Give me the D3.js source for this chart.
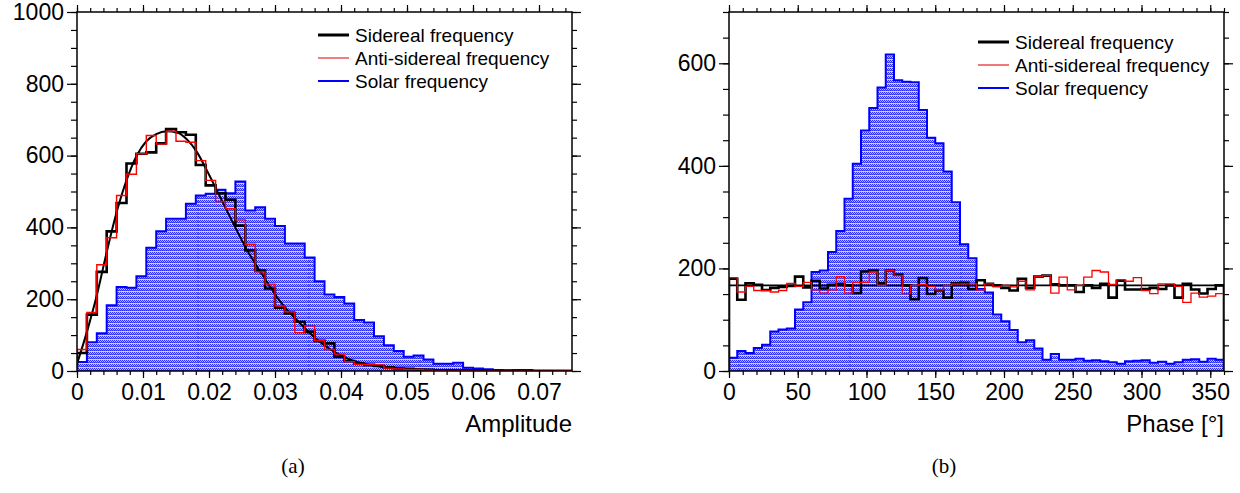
<!DOCTYPE html>
<html>
<head>
<meta charset="utf-8">
<script src="https://cdn.jsdelivr.net/npm/d3@7"></script>
<style>
  body { margin: 0; background: #fff; }
  svg { display: block; }
  text { font-family: "Liberation Sans", Arial, sans-serif; fill: #000; }
  .caption { font-family: "Liberation Serif", "DejaVu Serif", serif; }
</style>
</head>
<body>
<div id="chart"></div>
<script>
/*** DATA ***/

// (a) amplitude, 50 bins from 0 to 0.075
const ampRange = [0, 0.075];
const solarAmp = [25, 80, 105, 183, 234, 232, 264, 343, 389, 424,
  424, 466, 489, 494, 505, 495, 528, 447, 456, 424,
  404, 355, 355, 316, 250, 213, 206, 188, 142, 135,
  97, 72, 56, 40, 43, 32, 20, 20, 23, 9,
  7, 5, 3, 2, 3, 3, 1, 1, 1, 1];
const siderealAmp = [50, 157, 276, 389, 468, 578, 605, 609, 634, 674,
  665, 658, 574, 517, 495, 477, 405, 336, 280, 230,
  176, 160, 137, 109, 84, 77, 40, 28, 21, 17,
  14, 10, 7, 6, 4, 3, 2, 2, 1, 1,
  1, 0, 0, 0, 0, 0, 0, 0, 0, 0];
const antiAmp = [60, 163, 296, 371, 489, 548, 605, 656, 632, 668,
  640, 637, 586, 531, 472, 452, 421, 353, 276, 242,
  181, 165, 107, 126, 85, 60, 47, 26, 19, 18,
  17, 8, 6, 4, 4, 2, 1, 1, 1, 1,
  0, 0, 0, 0, 0, 0, 0, 0, 0, 0];
// fit curve of sidereal amplitude
const fitAmpX = [0, 0.0015, 0.003, 0.0045, 0.006, 0.0075, 0.009, 0.0105, 0.012, 0.0136,
  0.0151, 0.0166, 0.0182, 0.0197, 0.0212, 0.0227, 0.0242, 0.0258, 0.0273, 0.0283,
  0.0308, 0.0333, 0.0359, 0.0384, 0.0409, 0.0435, 0.046, 0.051, 0.061, 0.075];
const fitAmpY = [20, 109, 211, 331, 442, 531, 598, 640, 660, 668,
  665, 646, 609, 558, 503, 447, 392, 336, 290, 262,
  193, 142, 95, 60, 35, 20, 12, 5, 1, 0];

// (b) phase, 60 bins from 0 to 360
const phaseRange = [0, 360];
const solarPh = [26, 39, 35, 45, 51, 77, 81, 83, 120, 134,
  193, 196, 232, 273, 336, 404, 469, 513, 553, 617,
  567, 564, 563, 509, 455, 444, 389, 329, 247, 220,
  160, 153, 110, 97, 80, 56, 60, 44, 22, 33,
  22, 22, 24, 20, 21, 19, 17, 14, 19, 20,
  21, 16, 18, 14, 17, 22, 23, 18, 24, 22];
const siderealPh = [180, 139, 171, 168, 158, 162, 164, 166, 184, 163,
  176, 161, 168, 169, 167, 152, 194, 196, 171, 196,
  188, 167, 140, 181, 150, 157, 143, 171, 172, 160,
  177, 170, 167, 162, 157, 180, 162, 184, 186, 169,
  167, 167, 154, 167, 162, 170, 143, 176, 159, 159,
  160, 162, 160, 167, 143, 170, 159, 151, 160, 167];
const antiPh = [182, 154, 165, 157, 157, 154, 157, 171, 165, 173,
  158, 152, 158, 184, 152, 173, 173, 193, 167, 196,
  186, 151, 167, 169, 165, 158, 167, 170, 170, 170,
  158, 170, 164, 167, 164, 175, 158, 184, 186, 152,
  183, 158, 167, 183, 196, 193, 169, 178, 175, 182,
  157, 151, 170, 170, 165, 134, 152, 144, 146, 151];
const fitPh = 167;

const legendLabels = ["Sidereal frequency", "Anti-sidereal frequency", "Solar frequency"];

/*** SETUP ***/

const W = 1240, H = 493;
const svg = d3.select("#chart").append("svg").attr("width", W).attr("height", H);
const defs = svg.append("defs");

// checkered blue fill like the ROOT pattern
const pat = defs.append("pattern")
  .attr("id", "bluefill").attr("patternUnits", "userSpaceOnUse")
  .attr("width", 2).attr("height", 4);
pat.append("rect").attr("width", 2).attr("height", 4).attr("fill", "#bcbcff");
[[0, 0], [1, 1], [0, 2]].forEach(p => {
  pat.append("rect").attr("x", p[0]).attr("y", p[1]).attr("width", 1).attr("height", 1).attr("fill", "#2c2cf0");
});
pat.append("rect").attr("x", 1).attr("y", 2).attr("width", 1).attr("height", 1).attr("fill", "#6060f6");
pat.append("rect").attr("x", 0).attr("y", 3).attr("width", 2).attr("height", 1).attr("fill", "#d2d2ff");

function histPoints(vals, range) {
  const n = vals.length, w = (range[1] - range[0]) / n;
  const pts = [[range[0], 0]];
  vals.forEach((v, i) => pts.push([range[0] + i * w, v]));
  pts.push([range[1], vals[n - 1]]);
  pts.push([range[1], 0]);
  return pts;
}

function drawPanel(cfg) {
  const x = d3.scaleLinear().domain(cfg.xDomain).range([cfg.left, cfg.right]);
  const y = d3.scaleLinear().domain(cfg.yDomain).range([cfg.bottom, cfg.top]);
  const g = svg.append("g");

  defs.append("clipPath").attr("id", cfg.id + "clip")
    .append("rect").attr("x", cfg.left).attr("y", cfg.top)
    .attr("width", cfg.right - cfg.left).attr("height", cfg.bottom - cfg.top);

  const step = d3.line().x(d => x(d[0])).y(d => y(d[1])).curve(d3.curveStepAfter);
  const plot = g.append("g").attr("clip-path", "url(#" + cfg.id + "clip)");

  // solar: filled histogram
  const solarPts = histPoints(cfg.solar, cfg.xDomain);
  defs.append("clipPath").attr("id", cfg.id + "fillclip")
    .append("path").attr("d", step(solarPts));
  plot.append("path").attr("d", step(solarPts))
    .attr("fill", "url(#bluefill)").attr("stroke", "none");
  // faint tile seams of the fill
  const seams = plot.append("g").attr("clip-path", "url(#" + cfg.id + "fillclip)");
  d3.range(cfg.left + cfg.seam0, cfg.right, 111).forEach(sx => {
    seams.append("line").attr("x1", sx).attr("x2", sx).attr("y1", cfg.top).attr("y2", cfg.bottom)
      .attr("stroke", "#2020ff").attr("stroke-width", 1).attr("stroke-dasharray", "2,2").attr("opacity", 0.7);
  });
  plot.append("path").attr("d", step(solarPts))
    .attr("fill", "none").attr("stroke", "#0000ff").attr("stroke-width", 2);

  // sidereal
  plot.append("path").attr("d", step(histPoints(cfg.sidereal, cfg.xDomain)))
    .attr("fill", "none").attr("stroke", "#000").attr("stroke-width", 2.6);
  cfg.fit(plot, x, y);
  // anti-sidereal
  plot.append("path").attr("d", step(histPoints(cfg.anti, cfg.xDomain)))
    .attr("fill", "none").attr("stroke", "#ff0000").attr("stroke-width", cfg.antiWidth);

  // axes: major + minor, ticks outward on all four sides
  const axisDefs = [
    { gen: d3.axisBottom, scale: x, at: cfg.bottom, major: cfg.xMajor, minor: cfg.xMinor, len: [7, 4], label: true, fmt: cfg.xFmt },
    { gen: d3.axisTop, scale: x, at: cfg.top, major: cfg.xMajor, minor: cfg.xMinor, len: [7, 4], label: false },
    { gen: d3.axisLeft, scale: y, at: cfg.left, major: cfg.yMajor, minor: cfg.yMinor, len: [10, 6], label: true, fmt: d3.format("d") },
    { gen: d3.axisRight, scale: y, at: cfg.right, major: cfg.yMajor, minor: cfg.yMinor, len: [9, 5], label: false }
  ];
  axisDefs.forEach(a => {
    const horiz = (a.gen === d3.axisBottom || a.gen === d3.axisTop);
    const tr = horiz ? "translate(0," + a.at + ")" : "translate(" + a.at + ",0)";
    const minorAx = g.append("g").attr("transform", tr)
      .call(a.gen(a.scale).tickValues(a.minor).tickSize(a.len[1]).tickFormat(""));
    const majorAx = g.append("g").attr("transform", tr)
      .call(a.gen(a.scale).tickValues(a.major).tickSize(a.len[0]).tickPadding(a.gen === d3.axisLeft ? 3 : 6)
        .tickFormat(a.label ? a.fmt : ""));
    [minorAx, majorAx].forEach(ax => {
      ax.select(".domain").remove();
      ax.selectAll("line").attr("stroke", "#000").attr("stroke-width", 1.2);
      ax.selectAll("text").attr("font-size", 23).attr("fill", "#000")
        .style("font-family", "'Liberation Sans', Arial, sans-serif");
    });
  });

  // frame
  g.append("rect").attr("x", cfg.left).attr("y", cfg.top)
    .attr("width", cfg.right - cfg.left).attr("height", cfg.bottom - cfg.top)
    .attr("fill", "none").attr("stroke", "#000").attr("stroke-width", 1.5);

  // axis title
  g.append("text").attr("x", cfg.right).attr("y", cfg.bottom + 61)
    .attr("text-anchor", "end").attr("font-size", 24).text(cfg.xTitle);

  // legend
  const lg = g.append("g");
  cfg.legendStyles.forEach((s, i) => {
    const ly = cfg.legY + i * 23;
    lg.append("line").attr("x1", cfg.legX).attr("x2", cfg.legX + 31).attr("y1", ly).attr("y2", ly)
      .attr("stroke", s.color).attr("stroke-width", s.width);
    lg.append("text").attr("x", cfg.legX + 37).attr("y", ly).attr("dy", "0.36em")
      .attr("font-size", 19).text(legendLabels[i]);
  });

  // caption
  svg.append("text").attr("class", "caption").attr("x", cfg.capX).attr("y", 473)
    .attr("text-anchor", "middle").attr("font-size", 21).text(cfg.caption);
}

/*** PANEL (a) ***/
drawPanel({
  id: "a", left: 77, right: 572, top: 12, bottom: 371,
  xDomain: ampRange, yDomain: [0, 1000],
  solar: solarAmp, sidereal: siderealAmp, anti: antiAmp, antiWidth: 1.4,
  xMajor: d3.range(0, 0.0751, 0.01), xMinor: d3.range(0, 0.0751, 0.002),
  yMajor: d3.range(0, 1001, 200), yMinor: d3.range(0, 1001, 50),
  xFmt: d => d === 0 ? "0" : d3.format(".2f")(d),
  seam0: 10,
  fit: (plot, x, y) => {
    plot.append("path")
      .datum(d3.zip(fitAmpX, fitAmpY))
      .attr("d", d3.line().x(d => x(d[0])).y(d => y(d[1])).curve(d3.curveMonotoneX))
      .attr("fill", "none").attr("stroke", "#000").attr("stroke-width", 2);
  },
  xTitle: "Amplitude",
  legX: 318, legY: 35,
  legendStyles: [{ color: "#000", width: 3 }, { color: "#e00000", width: 1 }, { color: "#0000ff", width: 2 }],
  capX: 293, caption: "(a)"
});

/*** PANEL (b) ***/
drawPanel({
  id: "b", left: 729, right: 1224, top: 12, bottom: 371,
  xDomain: phaseRange, yDomain: [0, 700],
  solar: solarPh, sidereal: siderealPh, anti: antiPh, antiWidth: 1.3,
  xMajor: d3.range(0, 351, 50), xMinor: d3.range(0, 361, 10),
  yMajor: d3.range(0, 601, 200), yMinor: d3.range(0, 701, 50),
  xFmt: d3.format("d"),
  seam0: 10,
  fit: (plot, x, y) => {
    plot.append("line").attr("x1", x(phaseRange[0])).attr("x2", x(phaseRange[1]))
      .attr("y1", y(fitPh)).attr("y2", y(fitPh))
      .attr("stroke", "#000").attr("stroke-width", 1.6);
  },
  xTitle: "Phase [°]",
  legX: 978, legY: 42,
  legendStyles: [{ color: "#000", width: 3 }, { color: "#f07878", width: 2 }, { color: "#0000ff", width: 2 }],
  capX: 944, caption: "(b)"
});
</script>
</body>
</html>
